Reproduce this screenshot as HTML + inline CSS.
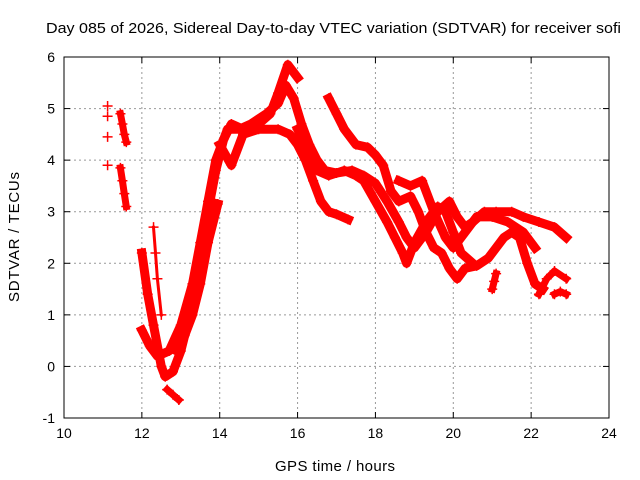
<!DOCTYPE html>
<html><head><meta charset="utf-8"><style>
body{margin:0;background:#fff}
svg{display:block;font-family:"Liberation Sans",sans-serif}
</style></head><body>
<svg id="chart" width="640" height="480">
<rect width="640" height="480" fill="#fff"/>
<text x="46" y="33" font-size="15" textLength="575" lengthAdjust="spacingAndGlyphs">Day 085 of 2026, Sidereal Day-to-day VTEC variation (SDTVAR) for receiver sofi</text>
<g id="grid"></g>
<g id="axes"></g>
<g id="series"></g>
<rect x="64" y="57" width="545" height="361" fill="none" stroke="#000" stroke-width="1"/>
<text x="335" y="471" font-size="15" textLength="120" text-anchor="middle">GPS time / hours</text>
<text x="19" y="237" font-size="15" textLength="130" text-anchor="middle" transform="rotate(-90 19 237)">SDTVAR / TECUs</text>
</svg>
<script>
const xTicks=[10,12,14,16,18,20,22,24];
const yTicks=[-1,0,1,2,3,4,5,6];
const trackIsolated=[[11.12,5.05],[11.12,4.85],[11.12,4.45],[11.12,3.9]];
const trackA1=[[11.45,4.9],[11.5,4.7],[11.55,4.5],[11.6,4.35]];
const trackA2=[[11.45,3.85],[11.5,3.6],[11.55,3.35],[11.6,3.1]];
const trackMain=[[12.0,2.2],[12.15,1.4],[12.3,0.8],[12.5,0.0],[12.6,-0.2],[12.8,-0.1],[13.0,0.3],[13.3,1.2],[13.5,2.0],[13.7,3.0],[13.9,3.8],[14.1,4.4],[14.3,4.7],[14.6,4.6],[15.0,4.7],[15.3,4.9],[15.5,5.3],[15.75,5.85],[16.0,5.6]];
const trackB=[[12.0,0.7],[12.2,0.4],[12.4,0.2],[12.7,0.3],[13.0,0.8],[13.3,1.6],[13.5,2.4],[13.7,3.2],[13.9,4.0],[14.2,4.6],[14.5,4.6],[14.8,4.7],[15.2,4.9],[15.5,5.1],[15.7,5.45],[15.9,5.2],[16.1,4.7],[16.3,4.3],[16.5,4.0],[16.7,3.8],[17.0,3.75],[17.4,3.8],[17.7,3.7],[18.0,3.55],[18.3,3.2],[18.6,2.8],[18.8,2.5],[19.0,2.3],[19.3,2.6],[19.6,3.0],[19.9,3.2],[20.1,2.9],[20.3,2.7],[20.5,2.8],[20.8,3.0],[21.1,3.0],[21.5,3.0],[21.8,2.9],[22.2,2.8],[22.6,2.7],[22.9,2.5]];
const trackC=[[12.65,-0.45],[12.8,-0.55],[12.95,-0.65]];
const trackC2=[[12.9,0.3],[13.1,0.6],[13.3,1.0],[13.5,1.6],[13.7,2.4],[13.95,3.15]];
const trackD=[[12.3,2.7],[12.35,2.2],[12.4,1.7],[12.5,1.0]];
const trackE=[[14.0,4.3],[14.3,3.9],[14.6,4.5],[15.0,4.6],[15.5,4.6],[15.8,4.5],[16.0,4.3],[16.2,4.0],[16.4,3.6],[16.6,3.2],[16.8,3.0],[17.0,2.95],[17.3,2.85]];
const trackF=[[16.8,5.2],[17.0,4.9],[17.2,4.6],[17.5,4.3],[17.8,4.25],[18.0,4.1],[18.2,3.9],[18.4,3.4],[18.6,3.2],[18.9,3.3],[19.1,3.0],[19.3,2.6],[19.5,2.3],[19.7,2.2],[19.9,1.9],[20.1,1.7],[20.3,1.9],[20.6,1.95],[20.9,2.1],[21.1,2.3],[21.3,2.5],[21.5,2.6],[21.7,2.5],[21.9,2.0],[22.1,1.6],[22.3,1.5]];
const trackG=[[16.0,4.6],[16.3,4.1],[16.5,3.8],[16.8,3.7],[17.2,3.8],[17.5,3.7],[17.7,3.6],[18.0,3.2],[18.3,2.8],[18.5,2.5],[18.7,2.2],[18.8,2.0],[19.0,2.4],[19.3,2.8],[19.6,3.1],[19.8,3.0],[20.0,2.6],[20.2,2.2],[20.5,2.0]];
const trackH=[[18.6,3.6],[18.9,3.5],[19.2,3.6],[19.5,3.0],[19.8,2.5],[20.0,2.3],[20.3,2.6],[20.6,2.9],[21.0,2.9],[21.4,2.8],[21.8,2.6],[22.1,2.3]];
const trackI=[[21.0,1.5],[21.05,1.65],[21.1,1.8]];
const trackJ=[[22.2,1.4],[22.4,1.7],[22.6,1.85],[22.9,1.7]];
const trackK=[[22.6,1.4],[22.75,1.45],[22.9,1.4]];
const tracks=[trackIsolated,trackA1,trackA2,trackMain,trackB,trackC,trackC2,trackD,trackE,trackF,trackG,trackH,trackI,trackJ,trackK];
const trackNames=['isolated','a1','a2','main','b','c','c2','d','e','f','g','h','i','j','k'];

const NS='http://www.w3.org/2000/svg';
const X0=64,X1=609,Y0=418,Y1=57;
function sx(h){return X0+(h-10)/(24-10)*(X1-X0);}
function sy(v){return Y0-(v-(-1))/(6-(-1))*(Y0-Y1);}
const grid=document.getElementById('grid'),axes=document.getElementById('axes'),ser=document.getElementById('series');
function mk(tag,attrs,parent){const e=document.createElementNS(NS,tag);for(const k in attrs)e.setAttribute(k,attrs[k]);parent.appendChild(e);return e;}
xTicks.forEach(t=>{const x=sx(t);
 if(t>10&&t<24){const l=mk('line',{x1:x,x2:x,y1:Y1,y2:Y0,stroke:'#999','stroke-dasharray':'2,3'},grid);
 
 }
 mk('line',{x1:x,x2:x,y1:Y0,y2:Y0-6,stroke:'#000'},axes);
 mk('line',{x1:x,x2:x,y1:Y1,y2:Y1+6,stroke:'#000'},axes);
 const tx=mk('text',{x:x,y:Y0+20,'font-size':14,'text-anchor':'middle'},axes);tx.textContent=t;
 
 });
yTicks.forEach(t=>{const y=sy(t);
 if(t>-1&&t<6){const l=mk('line',{x1:X0,x2:X1,y1:y,y2:y,stroke:'#999','stroke-dasharray':'2,3'},grid);
 
 }
 mk('line',{x1:X0,x2:X0+6,y1:y,y2:y,stroke:'#000'},axes);
 mk('line',{x1:X1,x2:X1-6,y1:y,y2:y,stroke:'#000'},axes);
 const tx=mk('text',{x:X0-9,y:y+5,'font-size':14,'text-anchor':'end'},axes);tx.textContent=t;
 
 });
tracks.forEach((tr,i)=>{
 const g=mk('g',{},ser);
 
 
 const w=(i===0)?0:(i===7?3:(i<3||i===5||i>11?7:9));
 if(w>0){const pts=tr.map(p=>sx(p[0]).toFixed(1)+','+sy(p[1]).toFixed(1)).join(' ');
  mk('polyline',{points:pts,fill:'none',stroke:'#f00','stroke-width':w,'stroke-linejoin':'round','stroke-linecap':'square'},g);}
 tr.forEach(p=>{const x=sx(p[0]),y=sy(p[1]);
  const m=mk('path',{d:`M${x-5},${y}H${x+5}M${x},${y-5}V${y+5}`,stroke:'#f00','stroke-width':1.5},g);
  
  });
});
</script>
</body></html>
